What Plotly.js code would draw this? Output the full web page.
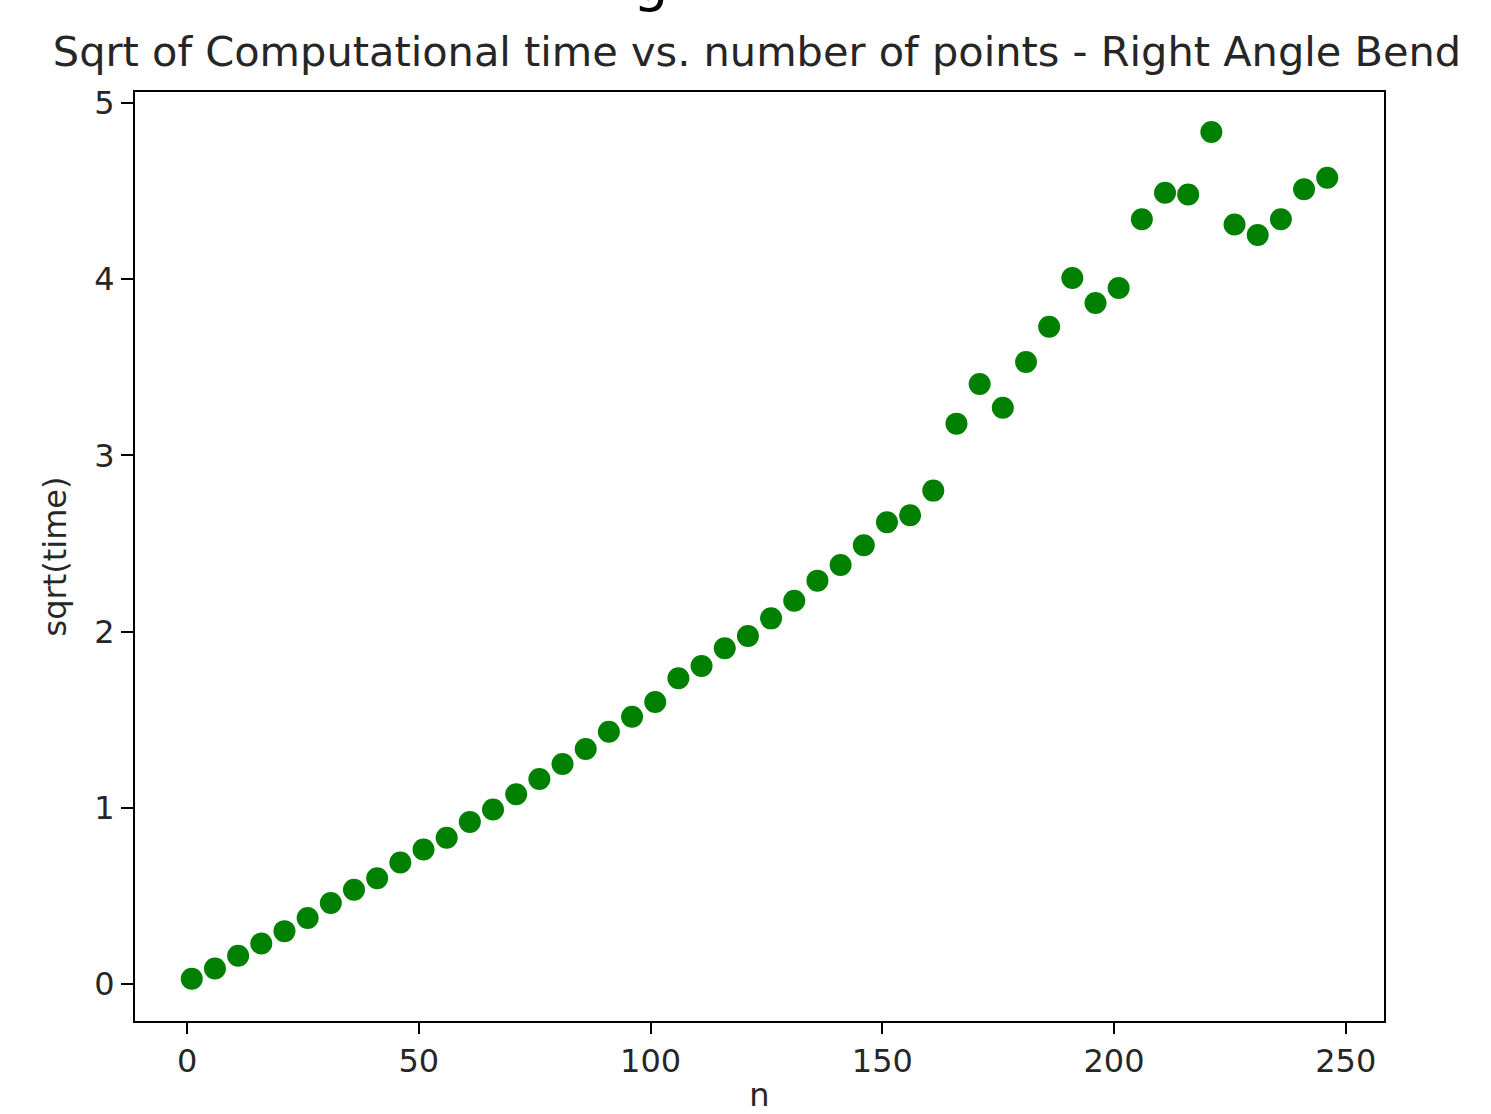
<!DOCTYPE html>
<html>
<head>
<meta charset="utf-8">
<script src="https://cdn.plot.ly/plotly-3.0.1.min.js"></script>
<style>html,body{margin:0;padding:0;background:#fff;overflow:hidden}#chart{width:1491px;height:1114px}</style>
</head>
<body>
<div id="chart"></div>
<script>
const nPoints = [1, 6, 11, 16, 21, 26, 31, 36, 41, 46, 51, 56, 61, 66, 71, 76, 81, 86, 91, 96,
  101, 106, 111, 116, 121, 126, 131, 136, 141, 146, 151, 156, 161, 166, 171, 176, 181, 186, 191, 196,
  201, 206, 211, 216, 221, 226, 231, 236, 241, 246];
const sqrtTime = [0.03, 0.088, 0.16, 0.23, 0.30, 0.375, 0.46, 0.535, 0.60, 0.69,
  0.763, 0.83, 0.92, 0.99, 1.077, 1.163, 1.248, 1.334, 1.432, 1.517,
  1.60, 1.735, 1.805, 1.905, 1.975, 2.075, 2.175, 2.289, 2.378, 2.49,
  2.62, 2.66, 2.80, 3.18, 3.405, 3.27, 3.53, 3.73, 4.007, 3.865,
  3.95, 4.34, 4.49, 4.48, 4.835, 4.31, 4.25, 4.34, 4.51, 4.575];
const xTicks = [0, 50, 100, 150, 200, 250];
const yTicks = [0, 1, 2, 3, 4, 5];
const titleText = 'Sqrt of Computational time vs. number of points - Right Angle Bend';

const font = 'DejaVu Sans, sans-serif';
const textColor = '#262626';

Plotly.newPlot('chart', [{
  x: nPoints,
  y: sqrtTime,
  type: 'scatter',
  mode: 'markers',
  marker: {color: '#008000', size: 22, line: {width: 0}},
  hoverinfo: 'x+y'
}], {
  width: 1491,
  height: 1114,
  paper_bgcolor: '#ffffff',
  plot_bgcolor: '#ffffff',
  showlegend: false,
  margin: {l: 135, r: 107, t: 92, b: 93, pad: 0},
  font: {family: font, color: textColor, size: 32},
  title: {
    text: titleText,
    font: {family: font, size: 41.5, color: textColor},
    x: 757 / 1491, xref: 'container', xanchor: 'center',
    y: 1 - 51 / 1114, yref: 'container', yanchor: 'middle'
  },
  xaxis: {
    range: [-11.25, 258.25],
    tickvals: xTicks,
    ticktext: xTicks.map(String),
    ticks: 'outside', ticklen: 11, tickwidth: 2, tickcolor: '#000',
    showline: true, linecolor: '#000', linewidth: 2, mirror: true,
    showgrid: false, zeroline: false,
    tickfont: {family: font, size: 32, color: textColor},
    title: {text: 'n', font: {family: font, size: 32, color: textColor}, standoff: 41},
    automargin: false
  },
  yaxis: {
    range: [-0.21, 5.062],
    tickvals: yTicks,
    ticktext: yTicks.map(String),
    ticks: 'outside', ticklen: 12, tickwidth: 2, tickcolor: '#000',
    showline: true, linecolor: '#000', linewidth: 2, mirror: true,
    showgrid: false, zeroline: false,
    tickfont: {family: font, size: 32, color: textColor},
    title: {text: 'sqrt(time)', font: {family: font, size: 32, color: textColor}, standoff: 18},
    automargin: false
  },
  annotations: [{
    text: 'g', xref: 'paper', yref: 'paper', x: (651 - 135) / 1249, y: 1 + (92 - 15) / 929,
    yanchor: 'bottom', xanchor: 'center', showarrow: false,
    font: {family: font, size: 56, color: '#000'}
  }]
}, {displayModeBar: false, staticPlot: true});
</script>
</body>
</html>
